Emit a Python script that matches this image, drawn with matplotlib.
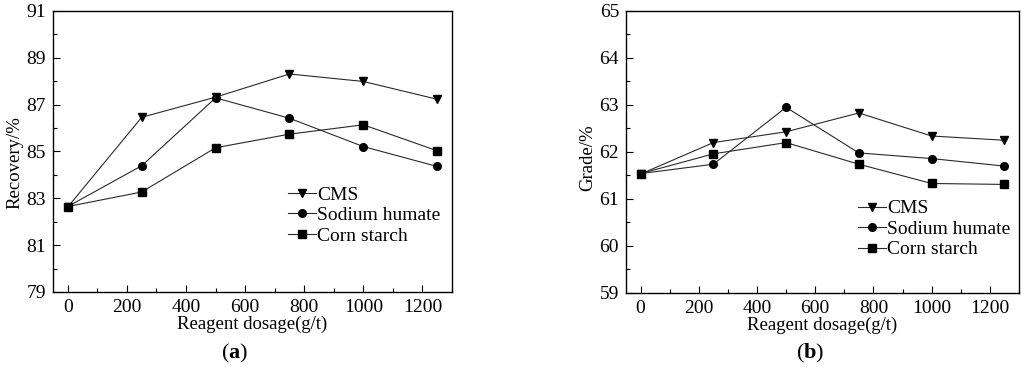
import numpy as np
import matplotlib
matplotlib.use('Agg')
import matplotlib.pyplot as plt
from matplotlib.ticker import MultipleLocator

# Data
dosage = [0, 250, 500, 750, 1000, 1250]
series_names = ['CMS', 'Sodium humate', 'Corn starch']

recovery_cms = [82.63, 86.46, 87.32, 88.31, 87.99, 87.23]
recovery_humate = [82.65, 84.39, 87.29, 86.42, 85.21, 84.36]
recovery_starch = [82.65, 83.27, 85.16, 85.74, 86.14, 85.03]

grade_cms = [61.53, 62.20, 62.43, 62.83, 62.34, 62.25]
grade_humate = [61.54, 61.74, 62.95, 61.98, 61.86, 61.70]
grade_starch = [61.54, 61.96, 62.20, 61.74, 61.33, 61.31]

plt.rcParams['font.family'] = ['Liberation Serif', 'DejaVu Serif']
plt.rcParams['mathtext.fontset'] = 'custom'
plt.rcParams['mathtext.rm'] = 'Liberation Serif'
plt.rcParams['mathtext.bf'] = 'Liberation Serif:bold'

markers = ['v', 'o', 's']


def draw_panel(ax, ys, ylim, ymajor, yoffset, ylabel, ylab_y, leg_y):
    """
    Draw one panel with three series, inward ticks and a frameless legend
    """
    for y, m, name in zip(ys, markers, series_names):
        ax.plot(dosage, y, color='#2a2a2a', lw=0.8, marker=m, ms=5.5,
                mfc='black', mec='black', label=name)
    ax.set_xlim(-50, 1300)
    ax.set_ylim(*ylim)
    ax.xaxis.set_major_locator(MultipleLocator(200))
    ax.xaxis.set_minor_locator(MultipleLocator(100))
    ax.yaxis.set_major_locator(MultipleLocator(ymajor, offset=yoffset))
    ax.yaxis.set_minor_locator(MultipleLocator(ymajor / 2))
    ax.tick_params(which='both', direction='in', top=False, right=False,
                   labelsize=14)
    ax.tick_params(which='major', length=5, width=0.8, pad=5)
    ax.tick_params(which='minor', length=3, width=0.8)
    for s in ax.spines.values():
        s.set_linewidth(1.0)
    ax.set_xlabel('Reagent dosage(g/t)', fontsize=13.5, labelpad=0)
    ax.set_ylabel(ylabel, fontsize=13.5)
    ax.yaxis.set_label_coords(-0.075, ylab_y)
    ax.legend(loc='upper left', bbox_to_anchor=(0.57, leg_y), frameon=False,
              fontsize=14, handlelength=1.45, handletextpad=0.05,
              labelspacing=0.15, borderaxespad=0.0)


fig = plt.figure(figsize=(10.24, 3.74), dpi=100)
ax1 = fig.add_axes([0.0518, 0.2193, 0.3896, 0.7513])
ax2 = fig.add_axes([0.6113, 0.2166, 0.3838, 0.754])

draw_panel(ax1, [recovery_cms, recovery_humate, recovery_starch],
           (79, 91), 2, 1, 'Recovery/%', 0.46, 0.405)
draw_panel(ax2, [grade_cms, grade_humate, grade_starch],
           (59, 65), 1, 0, 'Grade/%', 0.48, 0.358)

fig.text(235 / 1024, 1 - 353 / 374, r'($\mathbf{a}$)', ha='center',
         va='center', fontsize=16)
fig.text(810 / 1024, 1 - 353 / 374, r'($\mathbf{b}$)', ha='center',
         va='center', fontsize=16)

fig.savefig('out.png', dpi=100)
